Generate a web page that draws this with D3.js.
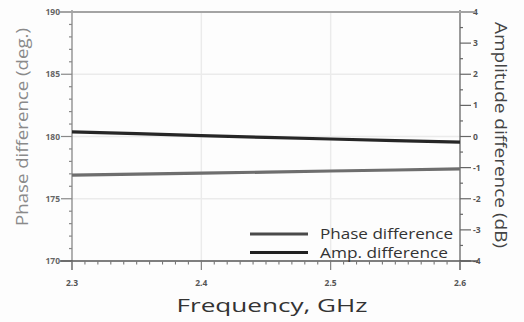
<!DOCTYPE html>
<html><head><meta charset="utf-8">
<script src="https://cdn.jsdelivr.net/npm/d3@7"></script>
<style>html,body{margin:0;padding:0;background:#fff;}svg{display:block;}</style>
</head><body>
<svg id="c" width="524" height="322"></svg>
<script>
const freq = [2.3, 2.35, 2.4, 2.45, 2.5, 2.55, 2.6];
const phase = [176.9, 176.98, 177.06, 177.14, 177.23, 177.31, 177.4];
const amp = [0.15, 0.09, 0.03, -0.03, -0.08, -0.13, -0.18];
const xTicks = [2.3, 2.4, 2.5, 2.6];
const leftTicks = [170, 175, 180, 185, 190];
const rightTicks = [-4, -3, -2, -1, 0, 1, 2, 3, 4];
const seriesNames = ["Phase difference", "Amp. difference"];

const svg = d3.select("#c");
const L = 72, R = 460, T = 12, B = 261;
const x = d3.scaleLinear().domain([2.3, 2.6]).range([L, R]);
const yL = d3.scaleLinear().domain([170, 190]).range([B, T]);
const yR = d3.scaleLinear().domain([-4, 4]).range([B, T]);
const font = "'Open Sans', 'DejaVu Sans', sans-serif";

svg.append("rect").attr("width", 524).attr("height", 322).attr("fill", "#fdfdfd");

// grid
const g = svg.append("g");
[2.4, 2.5].forEach(v => g.append("line").attr("x1", x(v)).attr("x2", x(v)).attr("y1", T).attr("y2", B)
  .attr("stroke", "#ebebeb").attr("stroke-width", 1.5));
[175, 180, 185].forEach(v => g.append("line").attr("x1", L).attr("x2", R).attr("y1", yL(v)).attr("y2", yL(v))
  .attr("stroke", "#ebebeb").attr("stroke-width", 1.5));

// left axis
const la = svg.append("g");
la.append("line").attr("x1", L).attr("x2", L).attr("y1", T - 2).attr("y2", B + 9).attr("stroke", "#888").attr("stroke-width", 1.3);
d3.range(170, 190.01, 1).forEach(v => {
  const major = v % 5 === 0;
  la.append("line").attr("x1", L - (major ? 11 : 3)).attr("x2", L).attr("y1", yL(v)).attr("y2", yL(v))
    .attr("stroke", "#888").attr("stroke-width", 1.2);
});
la.selectAll("text").data(leftTicks).join("text")
  .attr("x", L - 12).attr("y", d => yL(d) + 3).attr("text-anchor", "end")
  .attr("font-family", font).attr("font-size", 8.5).attr("font-weight", "bold").attr("fill", "#666")
  .text(d => d);

// right axis
const ra = svg.append("g");
ra.append("line").attr("x1", R).attr("x2", R).attr("y1", T - 2).attr("y2", B + 9).attr("stroke", "#666").attr("stroke-width", 1.3);
d3.range(-4, 4.01, 0.5).forEach(v => {
  const major = Number.isInteger(v);
  ra.append("line").attr("x1", R).attr("x2", R + (major ? 11 : 3)).attr("y1", yR(v)).attr("y2", yR(v))
    .attr("stroke", "#666").attr("stroke-width", 1.2);
});
ra.selectAll("text").data(rightTicks).join("text")
  .attr("x", R + 13).attr("y", d => yR(d) + 3).attr("text-anchor", "start")
  .attr("font-family", font).attr("font-size", 8.5).attr("font-weight", "bold").attr("fill", "#555")
  .text(d => d);

// top and bottom lines
svg.append("line").attr("x1", 60).attr("x2", 476).attr("y1", T).attr("y2", T).attr("stroke", "#a4a4a4").attr("stroke-width", 2);
svg.append("line").attr("x1", 60).attr("x2", 478).attr("y1", B).attr("y2", B).attr("stroke", "#555").attr("stroke-width", 1.5);

// bottom ticks
const ba = svg.append("g");
d3.range(0, 31).forEach(i => {
  const v = 2.3 + i * 0.01;
  const major = i % 10 === 0;
  ba.append("line").attr("x1", x(v)).attr("x2", x(v)).attr("y1", B).attr("y2", B + (major ? 9 : 3.5))
    .attr("stroke", "#777").attr("stroke-width", 1.1);
});
ba.selectAll("text").data(xTicks).join("text")
  .attr("x", d => x(d)).attr("y", B + 25).attr("text-anchor", "middle")
  .attr("font-family", font).attr("font-size", 8.5).attr("font-weight", "bold").attr("fill", "#555")
  .text(d => d.toFixed(1));

// series
const lineP = d3.line().x((d, i) => x(freq[i])).y(d => yL(d));
const lineA = d3.line().x((d, i) => x(freq[i])).y(d => yR(d));
svg.append("path").attr("d", lineP(phase)).attr("fill", "none").attr("stroke", "#6e6e6e").attr("stroke-width", 3.2);
svg.append("path").attr("d", lineA(amp)).attr("fill", "none").attr("stroke", "#262626").attr("stroke-width", 3.2);

// legend
const leg = svg.append("g");
const legY = [234, 252.5];
const legC = ["#4a4a4a", "#222"];
seriesNames.forEach((n, i) => {
  leg.append("line").attr("x1", 250).attr("x2", 308).attr("y1", legY[i]).attr("y2", legY[i])
    .attr("stroke", legC[i]).attr("stroke-width", 3);
  leg.append("text").attr("x", 320).attr("y", legY[i] + 5).attr("font-family", font).attr("font-size", 14)
    .attr("fill", "#333").attr("textLength", i === 0 ? 133 : 128).attr("lengthAdjust", "spacingAndGlyphs").text(n);
});

// titles
svg.append("text").attr("x", 272).attr("y", 312).attr("text-anchor", "middle").attr("font-family", font)
  .attr("font-size", 19).attr("fill", "#333").attr("textLength", 191).attr("lengthAdjust", "spacingAndGlyphs")
  .text("Frequency, GHz");
svg.append("text").attr("transform", "translate(28,127) rotate(-90)").attr("text-anchor", "middle").attr("font-family", font)
  .attr("font-size", 16).attr("fill", "#8a8a8a").attr("textLength", 198).attr("lengthAdjust", "spacingAndGlyphs")
  .text("Phase difference (deg.)");
svg.append("text").attr("transform", "translate(495,135) rotate(90)").attr("text-anchor", "middle").attr("font-family", font)
  .attr("font-size", 16).attr("fill", "#444").attr("textLength", 226).attr("lengthAdjust", "spacingAndGlyphs")
  .text("Amplitude difference (dB)");
</script>
</body></html>
